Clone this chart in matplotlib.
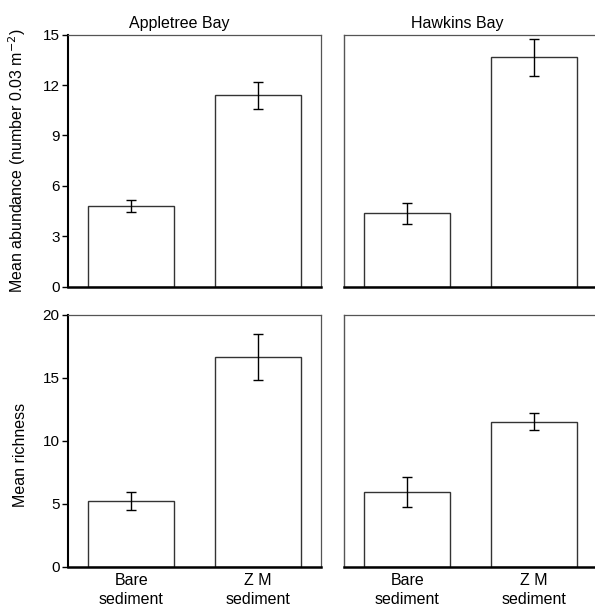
import matplotlib.pyplot as plt
import numpy as np

plt.rcParams['font.family'] = ['Liberation Sans', 'DejaVu Sans']

groups = ['Bare\nsediment', 'Z M\nsediment']
sites = ['Appletree Bay', 'Hawkins Bay']

# abundance (number 0.03 m^-2), mean and SE
abund_apple = [4.8, 11.4]
abund_apple_err = [0.37, 0.8]
abund_hawk = [4.35, 13.65]
abund_hawk_err = [0.63, 1.1]

# richness
rich_apple = [5.2, 16.65]
rich_apple_err = [0.7, 1.83]
rich_hawk = [5.9, 11.5]
rich_hawk_err = [1.2, 0.69]

fig = plt.figure(figsize=(5.95, 6.1), dpi=100)

lefts = [0.1143, 0.5782]
bottoms = [0.5303, 0.0713]
w, h = 0.4252, 0.4128
title_x = [0.439, 0.449]

data = [[(abund_apple, abund_apple_err), (abund_hawk, abund_hawk_err)],
        [(rich_apple, rich_apple_err), (rich_hawk, rich_hawk_err)]]
ylims = [15, 20]
yticks = [np.arange(0, 16, 3), np.arange(0, 21, 5)]

x = np.arange(len(groups))
for r in range(2):
    for c in range(2):
        ax = fig.add_axes([lefts[c], bottoms[r], w, h])
        vals, errs = data[r][c]
        ax.bar(x, vals, width=0.68, color='white', edgecolor='#333333', linewidth=1.0, zorder=2)
        ax.errorbar(x, vals, yerr=errs, fmt='none', ecolor='black', elinewidth=1.0,
                    capsize=3.5, capthick=1.0, zorder=3)
        ax.set_xlim(-0.5, 1.5)
        ax.set_ylim(0, ylims[r])
        ax.set_yticks(yticks[r])
        for s in ['top', 'right']:
            ax.spines[s].set_color('#555555')
            ax.spines[s].set_linewidth(0.9)
        ax.spines['bottom'].set_color('black')
        ax.spines['bottom'].set_linewidth(1.8)
        if c == 0:
            ax.spines['left'].set_color('black')
            ax.spines['left'].set_linewidth(1.5)
            ax.tick_params(axis='y', length=4, width=1, labelsize=11, pad=2)
        else:
            ax.spines['left'].set_color('#555555')
            ax.spines['left'].set_linewidth(1.0)
            ax.tick_params(axis='y', left=False, labelleft=False)
        if r == 1:
            ax.set_xticks(x)
            ax.set_xticklabels(groups, fontsize=11.5, linespacing=1.3)
            ax.tick_params(axis='x', length=0, pad=5)
        else:
            ax.set_xticks([])
            ax.set_title(sites[c], fontsize=11.5, pad=5, x=title_x[c])
        if c == 0:
            if r == 0:
                ax.set_ylabel('Mean abundance (number 0.03 m$^{-2}$)', fontsize=11.5)
                ax.yaxis.set_label_coords(-0.16, 0.5)
            else:
                ax.set_ylabel('Mean richness', fontsize=11.5)
                ax.yaxis.set_label_coords(-0.16, 0.443)

fig.savefig('out.png', dpi=100)
